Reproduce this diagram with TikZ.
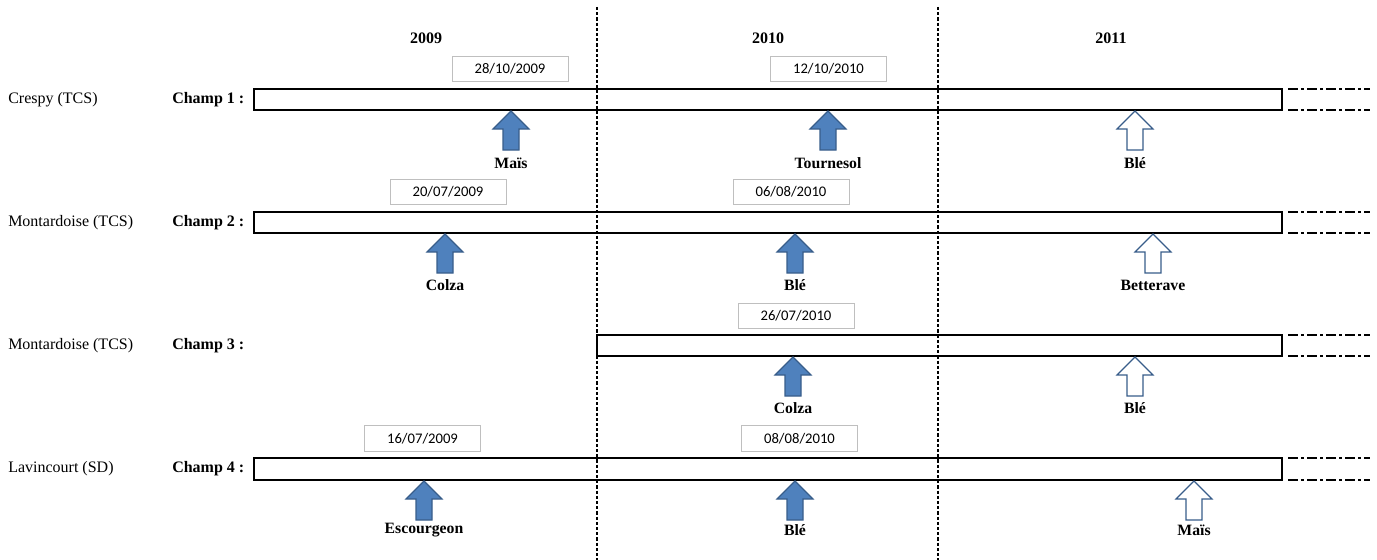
\documentclass[tikz,border=0pt]{standalone}
\usepackage{fontspec}
\setmainfont{Liberation Serif}
\newfontfamily\datefont{Carlito}
\begin{document}
\begin{tikzpicture}[x=0.75pt,y=-0.75pt,
  lbl/.style={anchor=west,inner sep=0pt,font=\fontsize{12}{14}\selectfont},
  champ/.style={anchor=west,inner sep=0pt,font=\fontsize{12}{14}\selectfont\bfseries},
  year/.style={inner sep=0pt,font=\fontsize{12}{14}\selectfont\bfseries},
  crop/.style={inner sep=0pt,font=\fontsize{11.8}{14}\selectfont\bfseries},
  datebox/.style={draw=black!25,line width=0.6pt,minimum width=87pt,minimum height=19pt,inner sep=0pt,font=\datefont\fontsize{11}{13}\selectfont},
  bar/.style={draw=black,line width=2pt,line join=miter},
  vline/.style={line width=1.3pt,dash pattern=on 2.4pt off 1.5pt},
  tail/.style={line width=2pt,dash pattern=on 7.5pt off 2.2pt on 2.4pt off 2.2pt},
  fullarrow/.style={fill=arrowfill,draw=arrowdraw,line width=0.9pt,line join=miter},
  emptyarrow/.style={fill=white,draw=arrowdraw,line width=0.9pt,line join=miter}
]
\definecolor{arrowfill}{HTML}{4F81BD}
\definecolor{arrowdraw}{HTML}{385D8A}
\tikzset{
  cropup/.pic={\path[pic actions] (0,0) -- (18,18) -- (8,18) -- (8,39) -- (-8,39) -- (-8,18) -- (-18,18) -- cycle;}
}
\useasboundingbox (0,0) rectangle (1377,560);

% vertical dashed separators
\coordinate (v1t) at (597,7); \coordinate (v1b) at (597,560);
\coordinate (v2t) at (938,7); \coordinate (v2b) at (938,560);
\draw[vline] (v1t) -- (v1b);
\draw[vline] (v2t) -- (v2b);

% years
\node[year] (y2009) at (426,38) {2009};
\node[year] (y2010) at (768,38) {2010};
\node[year] (y2011) at (1111,38) {2011};

% ---------- Row 1 ----------
\node[lbl] (s1) at (8,100) {Crespy (TCS)};
\node[champ] (c1) at (172,100) {Champ 1 :};
\draw[bar] (254,89) rectangle (1282,110);
\coordinate (t1a) at (1288,89); \coordinate (t1b) at (1370,89);
\coordinate (t1c) at (1288,110); \coordinate (t1d) at (1370,110);
\draw[tail] (t1a) -- (t1b); \draw[tail] (t1c) -- (t1d);
\node[datebox] (d11) at (510,69) {28/10/2009};
\node[datebox] (d12) at (828.5,69) {12/10/2010};
\pic[fullarrow] at (511,111) {cropup};
\pic[fullarrow] at (828,111) {cropup};
\pic[emptyarrow] at (1135,111) {cropup};
\node[crop] (k11) at (511,163) {Maïs};
\node[crop] (k12) at (828,163) {Tournesol};
\node[crop] (k13) at (1135,163) {Blé};

% ---------- Row 2 ----------
\node[lbl] (s2) at (8,223) {Montardoise (TCS)};
\node[champ] (c2) at (172,223) {Champ 2 :};
\draw[bar] (254,212) rectangle (1282,233);
\coordinate (t2a) at (1288,212); \coordinate (t2b) at (1370,212);
\coordinate (t2c) at (1288,233); \coordinate (t2d) at (1370,233);
\draw[tail] (t2a) -- (t2b); \draw[tail] (t2c) -- (t2d);
\node[datebox] (d21) at (448,192) {20/07/2009};
\node[datebox] (d22) at (791,192) {06/08/2010};
\pic[fullarrow] at (445,234) {cropup};
\pic[fullarrow] at (795,234) {cropup};
\pic[emptyarrow] at (1153,234) {cropup};
\node[crop] (k21) at (445,285) {Colza};
\node[crop] (k22) at (795,285) {Blé};
\node[crop] (k23) at (1153,285) {Betterave};

% ---------- Row 3 ----------
\node[lbl] (s3) at (8,346) {Montardoise (TCS)};
\node[champ] (c3) at (172,346) {Champ 3 :};
\draw[bar] (597,335) rectangle (1282,356);
\coordinate (t3a) at (1288,335); \coordinate (t3b) at (1370,335);
\coordinate (t3c) at (1288,356); \coordinate (t3d) at (1370,356);
\draw[tail] (t3a) -- (t3b); \draw[tail] (t3c) -- (t3d);
\node[datebox] (d32) at (796,316) {26/07/2010};
\pic[fullarrow] at (793,357) {cropup};
\pic[emptyarrow] at (1135,357) {cropup};
\node[crop] (k31) at (793,408) {Colza};
\node[crop] (k32) at (1135,408) {Blé};

% ---------- Row 4 ----------
\node[lbl] (s4) at (8,469) {Lavincourt (SD)};
\node[champ] (c4) at (172,469) {Champ 4 :};
\draw[bar] (254,458) rectangle (1282,480);
\coordinate (t4a) at (1288,458); \coordinate (t4b) at (1370,458);
\coordinate (t4c) at (1288,480); \coordinate (t4d) at (1370,480);
\draw[tail] (t4a) -- (t4b); \draw[tail] (t4c) -- (t4d);
\node[datebox] (d41) at (422.5,438.5) {16/07/2009};
\node[datebox] (d42) at (799.5,438.5) {08/08/2010};
\pic[fullarrow] at (424,481) {cropup};
\pic[fullarrow] at (795,481) {cropup};
\pic[emptyarrow] at (1194,481) {cropup};
\node[crop] (k41) at (424,530) {Escourgeon};
\node[crop] (k42) at (795,530) {Blé};
\node[crop] (k43) at (1194,530) {Maïs};
\end{tikzpicture}
\end{document}
